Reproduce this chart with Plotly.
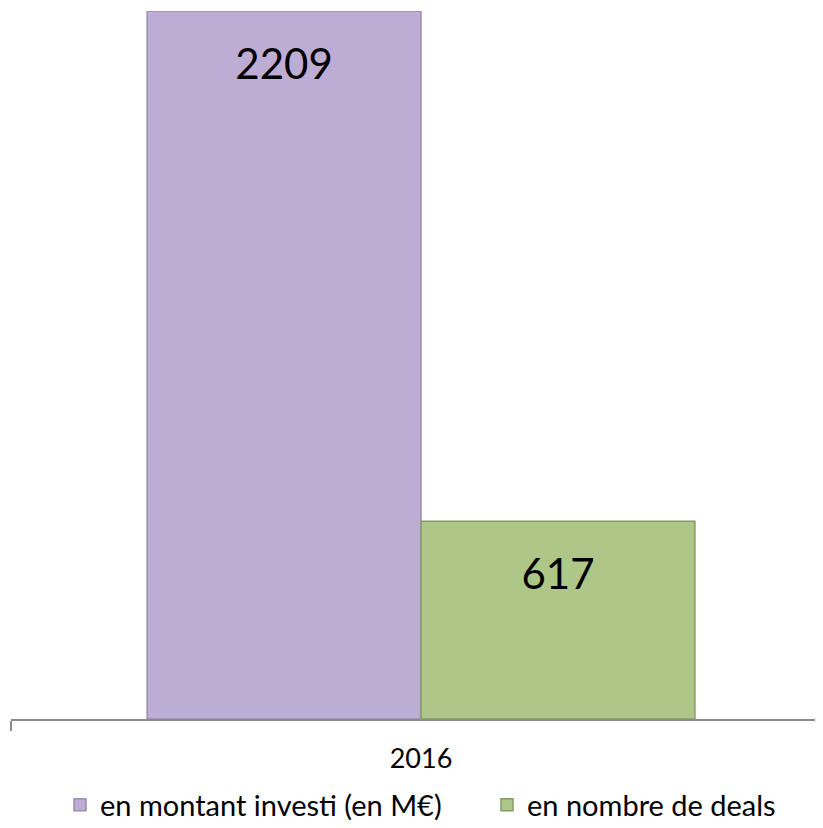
import plotly.graph_objects as go

categories = ["2016"]
series_names = ["en montant investi (en M€)", "en nombre de deals"]
montant = [2209]
deals = [617]
colors = ["#BDACD3", "#AEC688"]
edge_colors = ["#9C8CB3", "#839C62"]

FONT = "Lato"

fig = go.Figure()
for i, (name, vals, col, edge) in enumerate(zip(series_names, [montant, deals], colors, edge_colors)):
    fig.add_trace(go.Bar(
        x=categories, y=vals, name=name,
        marker=dict(color=col, line=dict(color=edge, width=1.5)),
        hoverinfo="y",
        legendwidth=382 if i == 0 else None,
    ))
for name, vals in zip(series_names, [montant, deals]):
    fig.add_trace(go.Scatter(
        x=categories, y=vals, mode="markers+text",
        text=[str(v) for v in vals],
        textposition="bottom center",
        textfont=dict(family=FONT, size=42, color="#000000"),
        marker=dict(size=56, opacity=0),
        showlegend=False, hoverinfo="skip", cliponaxis=False,
    ))

W, H = 815, 820
fig.update_layout(
    width=W, height=H,
    margin=dict(l=3, r=0, t=3, b=109),
    paper_bgcolor="white", plot_bgcolor="white",
    barmode="group", bargap=0.332, bargroupgap=0,
    scattermode="group", scattergap=0.332,
    font=dict(family=FONT, size=28, color="#000000"),
    showlegend=True,
    legend=dict(
        orientation="h", xref="container", yref="container",
        x=52 / W, xanchor="left", y=1 - 797 / H, yanchor="middle",
        font=dict(family=FONT, size=29),
        traceorder="normal",
        bgcolor="rgba(0,0,0,0)",
    ),
    xaxis=dict(
        type="category", range=[-0.5, 0.4902],
        showline=True, linecolor="#8C8C8C", linewidth=2,
        ticks="outside", tickson="boundaries", ticklen=10, tickwidth=2, tickcolor="#8C8C8C",
        tickfont=dict(family=FONT, size=27),
        ticklabelstandoff=15,
        showgrid=False, zeroline=False,
    ),
    yaxis=dict(range=[0, 2209], visible=False, showgrid=False, zeroline=False),
)

fig.write_html("out.html")
